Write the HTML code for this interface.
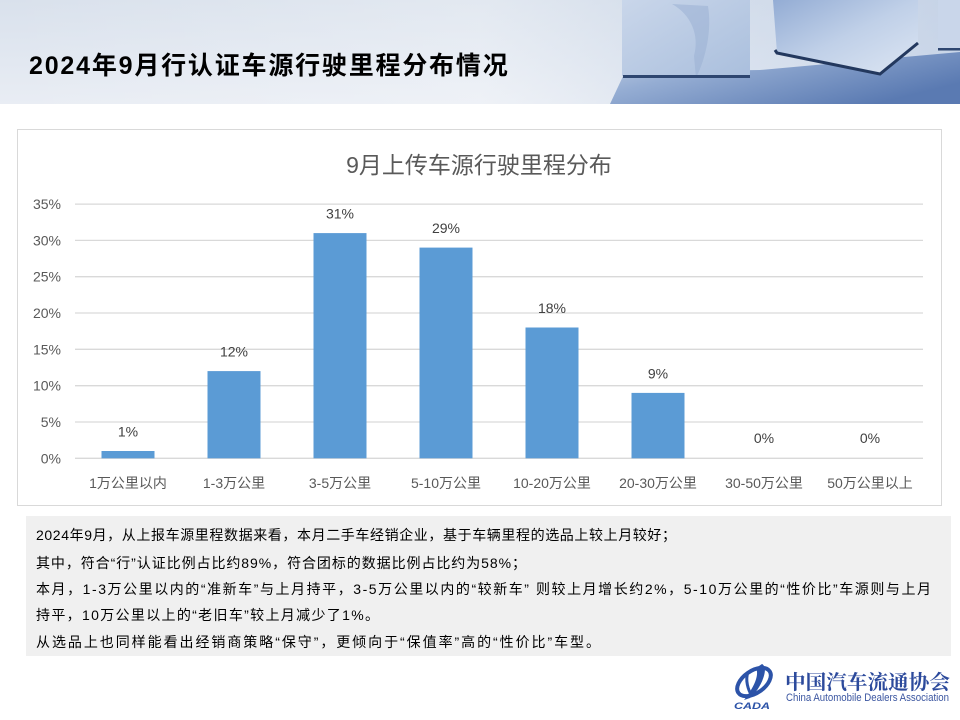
<!DOCTYPE html>
<html><head><meta charset="utf-8"><style>
html,body{margin:0;padding:0;background:#fff;}
svg{display:block;}
</style></head><body>
<svg width="960" height="720" viewBox="0 0 960 720" xmlns="http://www.w3.org/2000/svg">
<defs>
<linearGradient id="hbg" x1="0" y1="0" x2="0" y2="1">
<stop offset="0" stop-color="#d9e1ec"/><stop offset="0.6" stop-color="#e2e8f1"/><stop offset="1" stop-color="#e9edf4"/>
</linearGradient>
<linearGradient id="hbg2" x1="0" y1="0" x2="1" y2="0">
<stop offset="0" stop-color="#ffffff" stop-opacity="0"/><stop offset="0.5" stop-color="#ffffff" stop-opacity="0.25"/><stop offset="0.65" stop-color="#d5dfed" stop-opacity="0.3"/><stop offset="1" stop-color="#b7c8e2" stop-opacity="0.6"/>
</linearGradient>
<linearGradient id="floor" x1="0" y1="0" x2="1" y2="0.6">
<stop offset="0" stop-color="#c3d0e4"/><stop offset="0.35" stop-color="#95add3"/><stop offset="1" stop-color="#5a7ab2"/>
</linearGradient>
<linearGradient id="cube1" x1="0" y1="0" x2="1" y2="1">
<stop offset="0" stop-color="#c9d6ea"/><stop offset="1" stop-color="#aabfdd"/>
</linearGradient>
<linearGradient id="cube2" x1="0" y1="0" x2="1" y2="1">
<stop offset="0" stop-color="#93acd4"/><stop offset="0.5" stop-color="#c0d0e8"/><stop offset="1" stop-color="#dde6f3"/>
</linearGradient>
</defs>

<!-- header -->
<rect x="0" y="0" width="960" height="104" fill="url(#hbg)"/>
<rect x="0" y="0" width="960" height="104" fill="url(#hbg2)"/>
<polygon points="610,104 625,72 760,70 960,52 960,104" fill="url(#floor)"/>
<!-- cube 1 -->
<rect x="622" y="0" width="128" height="76" fill="url(#cube1)"/>
<path d="M672,4 C690,14 700,34 694,56 L696,78 C706,58 712,30 708,6 Z" fill="#9bb0d3" opacity="0.55"/>
<rect x="623" y="75" width="127" height="3" fill="#2e4670"/>
<!-- cube 2 -->
<polygon points="773,0 918,0 918,43 880,74 777,53" fill="url(#cube2)"/>
<polyline points="775,50 777,53 880,74 918,43" fill="none" stroke="#23385e" stroke-width="3"/>
<!-- cube 3 -->
<rect x="938" y="0" width="22" height="49" fill="#c9d6ea"/>
<rect x="938" y="48" width="22" height="2.5" fill="#2e4670"/>
<text x="29" y="74" font-family="'Liberation Sans','Noto Sans CJK SC',sans-serif" font-size="25" font-weight="bold" fill="#000" letter-spacing="1.8">2024年9月行认证车源行驶里程分布情况</text>

<!-- chart box -->
<rect x="17.5" y="129.5" width="924" height="376" fill="#fff" stroke="#d9d9d9" stroke-width="1"/>
<text x="479" y="173" text-anchor="middle" font-family="'Liberation Sans','Noto Sans CJK SC',sans-serif" font-size="23" fill="#595959">9月上传车源行驶里程分布</text>

<g stroke="#d9d9d9" stroke-width="1.3">
<line x1="75" y1="204.1" x2="923" y2="204.1"/>
<line x1="75" y1="240.4" x2="923" y2="240.4"/>
<line x1="75" y1="276.7" x2="923" y2="276.7"/>
<line x1="75" y1="313.0" x2="923" y2="313.0"/>
<line x1="75" y1="349.3" x2="923" y2="349.3"/>
<line x1="75" y1="385.7" x2="923" y2="385.7"/>
<line x1="75" y1="422.0" x2="923" y2="422.0"/>
<line x1="75" y1="458.3" x2="923" y2="458.3"/>
</g>
<g font-family="'Liberation Sans','Noto Sans CJK SC',sans-serif" font-size="14" fill="#595959" text-anchor="end">
<text x="61" y="209">35%</text>
<text x="61" y="245.4">30%</text>
<text x="61" y="281.7">25%</text>
<text x="61" y="318">20%</text>
<text x="61" y="354.3">15%</text>
<text x="61" y="390.7">10%</text>
<text x="61" y="427">5%</text>
<text x="61" y="463.3">0%</text>
</g>
<g fill="#5b9bd5">
<rect x="101.5" y="451.0" width="53" height="7.3"/>
<rect x="207.5" y="371.1" width="53" height="87.2"/>
<rect x="313.5" y="233.1" width="53" height="225.2"/>
<rect x="419.5" y="247.6" width="53" height="210.7"/>
<rect x="525.5" y="327.5" width="53" height="130.8"/>
<rect x="631.5" y="392.9" width="53" height="65.4"/>
</g>
<g font-family="'Liberation Sans','Noto Sans CJK SC',sans-serif" font-size="14" fill="#404040" text-anchor="middle">
<text x="128" y="436.5">1%</text>
<text x="234" y="356.6">12%</text>
<text x="340" y="218.6">31%</text>
<text x="446" y="233.1">29%</text>
<text x="552" y="313">18%</text>
<text x="658" y="378.4">9%</text>
<text x="764" y="443">0%</text>
<text x="870" y="443">0%</text>
</g>
<g font-family="'Liberation Sans','Noto Sans CJK SC',sans-serif" font-size="14" fill="#595959" text-anchor="middle">
<text x="128" y="488">1万公里以内</text>
<text x="234" y="488">1-3万公里</text>
<text x="340" y="488">3-5万公里</text>
<text x="446" y="488">5-10万公里</text>
<text x="552" y="488">10-20万公里</text>
<text x="658" y="488">20-30万公里</text>
<text x="764" y="488">30-50万公里</text>
<text x="870" y="488">50万公里以上</text>
</g>

<!-- text box -->
<rect x="26" y="516" width="925" height="140" fill="#f0f0f0"/>
<g font-family="'Liberation Sans','Noto Sans CJK SC',sans-serif" font-size="14" fill="#000">
<text x="36" y="540" textLength="640" lengthAdjust="spacing">2024年9月，从上报车源里程数据来看，本月二手车经销企业，基于车辆里程的选品上较上月较好；</text>
<text x="36" y="568" textLength="490" lengthAdjust="spacing">其中，符合“行”认证比例占比约89%，符合团标的数据比例占比约为58%；</text>
<text x="36" y="594" textLength="895" lengthAdjust="spacing">本月，1-3万公里以内的“准新车”与上月持平，3-5万公里以内的“较新车” 则较上月增长约2%，5-10万公里的“性价比”车源则与上月</text>
<text x="36" y="620" textLength="343" lengthAdjust="spacing">持平，10万公里以上的“老旧车”较上月减少了1%。</text>
<text x="36" y="647" textLength="564" lengthAdjust="spacing">从选品上也同样能看出经销商策略“保守”，更倾向于“保值率”高的“性价比”车型。</text>
</g>

<!-- logo -->
<g>
<ellipse cx="754" cy="682" rx="19" ry="11" fill="none" stroke="#2c53a8" stroke-width="4" transform="rotate(-35 754 682)"/>
<path d="M762,664 C770,668 760,690 750,698 L744,700 C752,690 760,676 756,668 Z" fill="#2c53a8"/>
<path d="M748,672 C745,680 748,690 752,696" fill="none" stroke="#2c53a8" stroke-width="3"/>
<text x="734" y="709" font-family="'Liberation Sans',sans-serif" font-size="9" font-weight="bold" font-style="italic" fill="#2c53a8" textLength="36" lengthAdjust="spacingAndGlyphs">CADA</text>
</g>
<text x="785" y="689" font-family="'Liberation Serif','Noto Serif CJK SC',serif" font-size="20" font-weight="bold" fill="#2c4a9c" textLength="165" lengthAdjust="spacingAndGlyphs">中国汽车流通协会</text>
<text x="786" y="701" font-family="'Liberation Sans',sans-serif" font-size="11" fill="#3a55a0" textLength="163" lengthAdjust="spacingAndGlyphs">China Automobile Dealers Association</text>
</svg>
</body></html>
